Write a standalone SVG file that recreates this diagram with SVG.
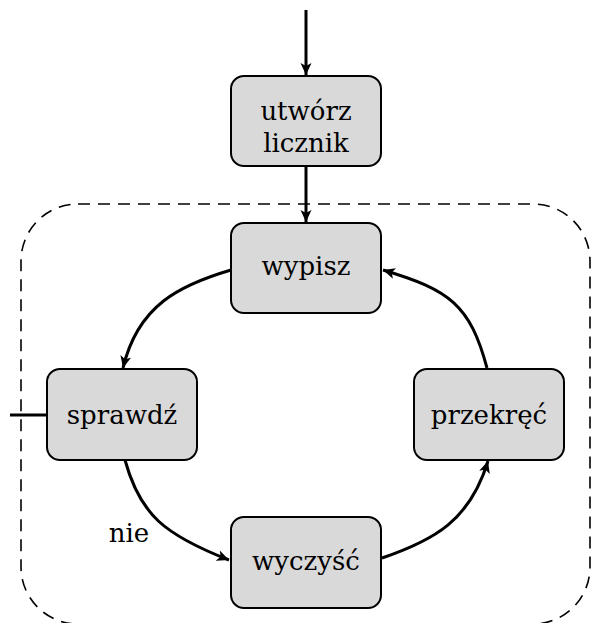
<svg xmlns="http://www.w3.org/2000/svg" width="591" height="623" viewBox="0 0 591 623">
<style>
.box{fill:#d9d9d9;stroke:#000;stroke-width:2}
.lbl{font-family:'DejaVu Serif',serif;font-size:26px;fill:#000;text-anchor:middle}
.edge{fill:none;stroke:#000;stroke-width:3}
.frame{fill:none;stroke:#000;stroke-width:1.6;stroke-dasharray:12 8}
</style>
<defs>
<marker id="arr" markerUnits="userSpaceOnUse" markerWidth="14" markerHeight="12" refX="12" refY="6" orient="auto">
<path d="M0,0.5 L12,6 L0,11.5 L3,6 z" fill="#000"/>
</marker>
</defs>
<rect class="frame" x="21" y="204" width="569" height="420" rx="57" ry="57"/>
<g id="connectors">
<path class="edge" d="M306,10 L306,75" marker-end="url(#arr)"/>
<path class="edge" d="M306,166 L306,222" marker-end="url(#arr)"/>
<path class="edge" d="M231,270 C180,285 138,305 123,368" marker-end="url(#arr)"/>
<path class="edge" d="M125,460 C140,515 165,535 229,560" marker-end="url(#arr)"/>
<path class="edge" d="M382,558 C435,540 470,520 488,461" marker-end="url(#arr)"/>
<path class="edge" d="M487,368 C470,305 450,290 383,270" marker-end="url(#arr)"/>
<path class="edge" d="M10,415 L47,415"/>
<text class="lbl" x="129" y="542">nie</text>
</g>
<g id="utworz">
<rect class="box" x="231" y="76" width="150" height="90" rx="13"/>
<text class="lbl" x="306" y="120">utwórz</text>
<text class="lbl" x="306" y="152">licznik</text>
</g>
<g id="wypisz">
<rect class="box" x="231" y="223" width="150" height="90" rx="13"/>
<text class="lbl" x="306" y="275">wypisz</text>
</g>
<g id="sprawdz">
<rect class="box" x="47" y="369" width="150" height="91" rx="13"/>
<text class="lbl" x="122" y="424">sprawdź</text>
</g>
<g id="przekrec">
<rect class="box" x="414" y="369" width="150" height="91" rx="13"/>
<text class="lbl" x="489" y="424">przekręć</text>
</g>
<g id="wyczysc">
<rect class="box" x="231" y="517" width="150" height="91" rx="13"/>
<text class="lbl" x="306" y="570">wyczyść</text>
</g>
</svg>
